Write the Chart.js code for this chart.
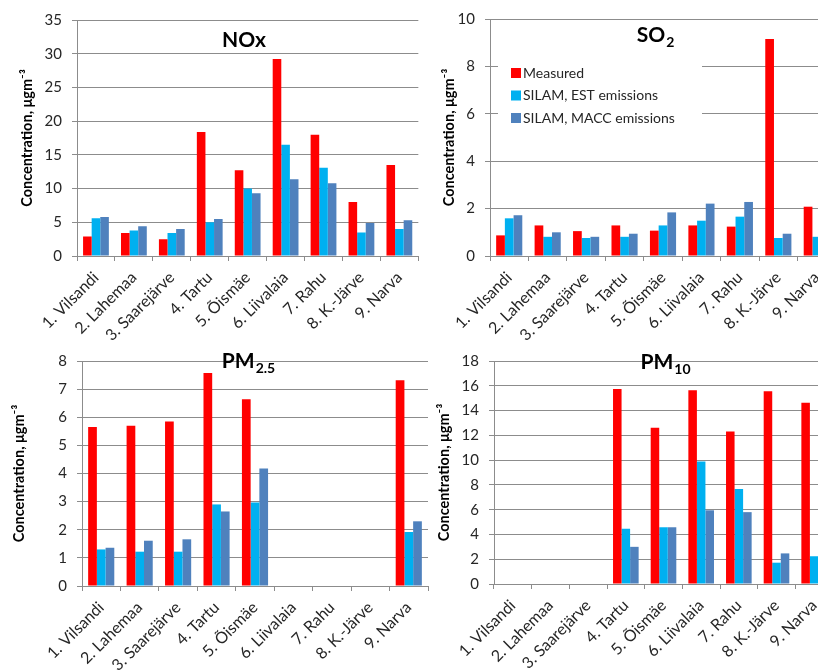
<!DOCTYPE html>
<html>
<head>
<meta charset="utf-8">
<script src="https://cdn.jsdelivr.net/npm/chart.js@4.4.0/dist/chart.umd.min.js"></script>
<style>
  html, body { margin: 0; padding: 0; background: #fff; }
  body { position: relative; width: 818px; height: 670px; overflow: hidden; }
  .panel { position: absolute; overflow: hidden; background: #fff; }
  canvas { display: block; }
</style>
</head>
<body>
<div class="panel" style="left:0;top:0;width:420px;height:342px"><canvas id="nox" width="420" height="342"></canvas></div>
<div class="panel" style="left:420px;top:0;width:398px;height:342px"><canvas id="so2" width="420" height="342"></canvas></div>
<div class="panel" style="left:0;top:342px;width:430px;height:328px"><canvas id="pm25" width="430" height="328"></canvas></div>
<div class="panel" style="left:430px;top:342px;width:388px;height:328px"><canvas id="pm10" width="410" height="328"></canvas></div>
<script>
'use strict';

const stations = ['1. Vilsandi', '2. Lahemaa', '3. Saarejärve', '4. Tartu', '5. Õismäe',
  '6. Liivalaia', '7. Rahu', '8. K.-Järve', '9. Narva'];
const seriesNames = ['Measured', 'SILAM, EST emissions', 'SILAM, MACC emissions'];
const seriesColors = ['#ff0000', '#00b0f0', '#4f81bd'];
const yTitle = 'Concentration, μgm⁻³';

const noxMeasured = [2.9, 3.4, 2.5, 18.4, 12.7, 29.2, 18.0, 8.0, 13.5];
const noxEst = [5.6, 3.8, 3.4, 5.0, 10.0, 16.5, 13.1, 3.5, 4.0];
const noxMacc = [5.8, 4.4, 4.0, 5.5, 9.3, 11.4, 10.8, 4.9, 5.3];

const so2Measured = [0.87, 1.29, 1.05, 1.29, 1.07, 1.29, 1.24, 9.16, 2.08];
const so2Est = [1.59, 0.81, 0.76, 0.81, 1.29, 1.49, 1.66, 0.76, 0.81];
const so2Macc = [1.72, 1.0, 0.81, 0.94, 1.84, 2.21, 2.28, 0.94, 1.0];

const pm25Measured = [5.65, 5.7, 5.85, 7.57, 6.64, null, null, null, 7.32];
const pm25Est = [1.3, 1.22, 1.22, 2.9, 2.97, null, null, null, 1.92];
const pm25Macc = [1.36, 1.61, 1.66, 2.65, 4.18, null, null, null, 2.3];

const pm10Measured = [null, null, null, 15.75, 12.62, 15.63, 12.3, 15.55, 14.63];
const pm10Est = [null, null, null, 4.46, 4.58, 9.88, 7.67, 1.72, 2.24];
const pm10Macc = [null, null, null, 3.0, 4.58, 5.95, 5.8, 2.47, 1.5];

const FONT = 'Lato';
const INK = '#262626';
const GRID = '#8c8c8c';
Chart.defaults.font.family = FONT;
Chart.defaults.color = INK;

// title with optional subscript, drawn inside the plot like Excel does
const panelTitle = {
  id: 'panelTitle',
  afterDraw(chart, args, o) {
    if (!o || !o.main) return;
    const ctx = chart.ctx;
    ctx.save();
    ctx.fillStyle = '#000';
    ctx.textBaseline = 'alphabetic';
    ctx.textAlign = 'left';
    ctx.font = `bold 21px ${FONT}`;
    const w1 = ctx.measureText(o.main).width;
    ctx.font = `bold 14px ${FONT}`;
    const w2 = o.sub ? ctx.measureText(o.sub).width : 0;
    const x0 = o.x - (w1 + w2) / 2;
    ctx.font = `bold 21px ${FONT}`;
    ctx.fillText(o.main, x0, o.y);
    if (o.sub) {
      ctx.font = `bold 14px ${FONT}`;
      ctx.fillText(o.sub, x0 + w1 + 1, o.y + 5);
    }
    ctx.restore();
  }
};

// legend box placed over the plot area (SO2 panel only)
const boxLegend = {
  id: 'boxLegend',
  afterDraw(chart, args, o) {
    if (!o || !o.show) return;
    const ctx = chart.ctx;
    ctx.save();
    ctx.fillStyle = '#fff';
    ctx.fillRect(o.x, o.y, o.w, o.h);
    ctx.font = `14px ${FONT}`;
    ctx.textBaseline = 'middle';
    chart.data.datasets.forEach((ds, i) => {
      const cy = o.y + o.first + i * o.gap;
      ctx.fillStyle = ds.backgroundColor;
      ctx.fillRect(o.x + 13, cy - 5, 10, 10);
      ctx.fillStyle = INK;
      ctx.fillText(ds.label, o.x + 25, cy);
    });
    ctx.restore();
  }
};

function makePanel(id, series, max, step, box, title, legend) {
  return new Chart(document.getElementById(id), {
    type: 'bar',
    data: {
      labels: stations,
      datasets: series.map((data, i) => ({
        label: seriesNames[i],
        data,
        backgroundColor: seriesColors[i],
        borderWidth: 0,
        categoryPercentage: 0.68,
        barPercentage: 1
      }))
    },
    options: {
      responsive: false,
      animation: false,
      devicePixelRatio: 1,
      layout: { padding: { left: 0, top: box.top, right: box.right, bottom: 0 } },
      plugins: {
        legend: { display: false },
        tooltip: { enabled: false },
        panelTitle: title,
        boxLegend: legend || { show: false }
      },
      scales: {
        x: {
          afterFit: (s) => { s.height = box.xh; },
          grid: { drawOnChartArea: false, drawTicks: true, tickLength: 5, color: GRID, offset: true },
          border: { color: GRID },
          ticks: { minRotation: 45, maxRotation: 45, padding: 7, font: { size: 16 }, color: INK, autoSkip: false }
        },
        y: {
          min: 0,
          max,
          afterFit: (s) => { s.width = box.yw; },
          grid: { color: GRID, tickLength: 5 },
          border: { color: GRID },
          ticks: { stepSize: step, padding: 10, font: { size: 15 }, color: INK },
          title: { display: true, text: yTitle, color: '#000', font: { size: 14.5, weight: 'bold' }, padding: { top: box.tp, bottom: 0 } }
        }
      }
    },
    plugins: [panelTitle, boxLegend]
  });
}

makePanel('nox', [noxMeasured, noxEst, noxMacc], 35, 5,
  { top: 20, right: 1, xh: 86, yw: 77, tp: 19 },
  { main: 'NOx', x: 244, y: 47 });

makePanel('so2', [so2Measured, so2Est, so2Macc], 10, 2,
  { top: 19, right: 4, xh: 86, yw: 70, tp: 21 },
  { main: 'SO', sub: '2', x: 235, y: 42 },
  { show: true, x: 78, y: 60, w: 204, h: 70, first: 13, gap: 22.5 });

makePanel('pm25', [pm25Measured, pm25Est, pm25Macc], 8, 1,
  { top: 11, right: 2, xh: 84, yw: 82, tp: 11 },
  { main: 'PM', sub: '2.5', x: 248, y: 26 });

makePanel('pm10', [pm10Measured, pm10Est, pm10Macc], 18, 2,
  { top: 9, right: 7, xh: 86, yw: 64, tp: 6 },
  { main: 'PM', sub: '10', x: 235, y: 27 });
</script>
</body>
</html>
